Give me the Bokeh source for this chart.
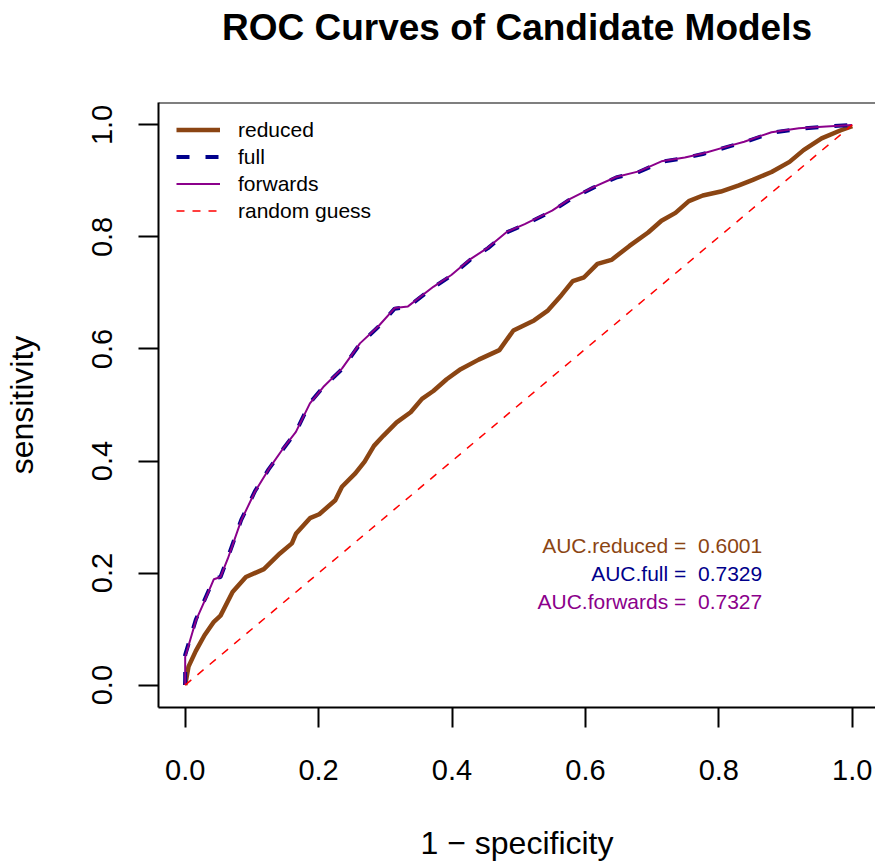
from bokeh.plotting import figure
from bokeh.models import Range1d, FixedTicker, Span, Legend, LegendItem, ColumnDataSource, LinearAxis
from bokeh.core.properties import value
from bokeh.embed import file_html
from bokeh.resources import INLINE

# ---- data ----
reduced_fpr = [0.0, 0.005, 0.016, 0.029, 0.043, 0.053, 0.071, 0.091, 0.118, 0.142, 0.160, 0.166,
               0.187, 0.201, 0.225, 0.235, 0.255, 0.269, 0.283, 0.297, 0.317, 0.338, 0.355, 0.372,
               0.392, 0.413, 0.440, 0.471, 0.492, 0.523, 0.543, 0.564, 0.581, 0.598, 0.618, 0.639,
               0.666, 0.694, 0.714, 0.735, 0.755, 0.776, 0.803, 0.830, 0.851, 0.879, 0.906, 0.927,
               0.954, 0.982, 1.0]
reduced_tpr = [0.0, 0.033, 0.061, 0.089, 0.113, 0.124, 0.166, 0.193, 0.207, 0.235, 0.253, 0.270,
               0.298, 0.305, 0.330, 0.354, 0.378, 0.399, 0.427, 0.445, 0.469, 0.487, 0.511, 0.525,
               0.546, 0.564, 0.581, 0.598, 0.633, 0.651, 0.668, 0.696, 0.721, 0.728, 0.752, 0.759,
               0.784, 0.808, 0.829, 0.843, 0.864, 0.874, 0.881, 0.892, 0.902, 0.916, 0.934, 0.955,
               0.976, 0.990, 0.998]

full_fpr = [0.0, 0.0, 0.016, 0.029, 0.043, 0.053, 0.064, 0.084, 0.105, 0.125, 0.146, 0.166,
            0.187, 0.207, 0.235, 0.262, 0.290, 0.314, 0.334, 0.372, 0.399, 0.427, 0.454, 0.482,
            0.509, 0.550, 0.577, 0.612, 0.646, 0.680, 0.714, 0.749, 0.776, 0.817, 0.838, 0.879,
            0.920, 0.961, 1.0]
full_tpr = [0.0, 0.054, 0.117, 0.152, 0.190, 0.193, 0.228, 0.295, 0.347, 0.385, 0.420, 0.452,
            0.504, 0.532, 0.564, 0.609, 0.640, 0.672, 0.675, 0.710, 0.731, 0.759, 0.780, 0.808,
            0.822, 0.846, 0.867, 0.888, 0.906, 0.916, 0.934, 0.941, 0.948, 0.962, 0.969, 0.986,
            0.993, 0.997, 1.0]

forwards_fpr = [0.0, 0.0, 0.016, 0.029, 0.043, 0.053, 0.064, 0.084, 0.105, 0.125, 0.146, 0.166,
                0.187, 0.207, 0.235, 0.262, 0.290, 0.314, 0.334, 0.372, 0.399, 0.427, 0.454, 0.482,
                0.509, 0.550, 0.577, 0.612, 0.646, 0.680, 0.714, 0.749, 0.776, 0.817, 0.838, 0.879,
                0.920, 0.961, 1.0]
forwards_tpr = [0.0, 0.050, 0.115, 0.150, 0.189, 0.193, 0.226, 0.294, 0.346, 0.385, 0.421, 0.452,
                0.503, 0.532, 0.565, 0.610, 0.641, 0.673, 0.676, 0.711, 0.732, 0.760, 0.781, 0.809,
                0.823, 0.847, 0.868, 0.889, 0.907, 0.917, 0.935, 0.942, 0.949, 0.963, 0.970, 0.987,
                0.994, 0.997, 1.0]

guess_x = [0.0, 1.0]
guess_y = [0.0, 1.0]

auc_names = ["reduced", "full", "forwards"]
auc_values = [0.6001, 0.7329, 0.7327]
auc_y = [0.25, 0.20, 0.15]

tick_values = [0.0, 0.2, 0.4, 0.6, 0.8, 1.0]
tick_labels = ["0.0", "0.2", "0.4", "0.6", "0.8", "1.0"]

legend_labels = ["reduced", "full", "forwards", "random guess"]
title_text = "ROC Curves of Candidate Models"

BROWN = "#8B4513"
NAVY = "#00008B"
MAGENTA = "#8B008B"
RED = "#FF0000"
FONT = "Liberation Sans"

FRAME_W = 875 - 157
p = figure(width=875, height=863, output_backend="svg", toolbar_location=None,
           x_range=Range1d(-0.04, -0.04 + FRAME_W / 668.0), y_range=Range1d(-0.04, 1.04),
           min_border_left=157, min_border_right=0, min_border_top=102, min_border_bottom=155)
p.background_fill_color = "white"
p.border_fill_color = "white"
p.outline_line_color = None
p.xgrid.visible = False
p.ygrid.visible = False

xax = p.below[0]
yax = p.left[0]

# chart title, drawn as the label of a tick-less top axis so it sits well above the box
title_axis = LinearAxis(ticker=FixedTicker(ticks=[]), axis_line_color=None,
                        major_tick_line_color=None, minor_tick_line_color=None,
                        major_tick_out=0, major_tick_in=0, minor_tick_out=0, minor_tick_in=0,
                        major_label_standoff=0,
                        axis_label=title_text, axis_label_standoff=55,
                        axis_label_text_font=FONT, axis_label_text_font_size="37px",
                        axis_label_text_font_style="bold", axis_label_text_color="black")
p.add_layout(title_axis, "above")

for ax in (xax, yax):
    ax.ticker = FixedTicker(ticks=tick_values)
    ax.major_label_overrides = {v: l for v, l in zip(tick_values, tick_labels)}
    ax.minor_tick_line_color = None
    ax.major_tick_in = 0
    ax.major_tick_out = 20
    ax.major_tick_line_width = 2
    ax.major_tick_line_color = "black"
    ax.axis_line_width = 2
    ax.axis_line_color = "black"
    ax.major_label_text_font = FONT
    ax.major_label_text_font_size = "29px"
    ax.major_label_text_color = "black"
    ax.axis_label_text_font = FONT
    ax.axis_label_text_font_size = "32px"
    ax.axis_label_text_font_style = "normal"
    ax.axis_label_text_color = "black"

xax.axis_label = "1 \u2212 specificity"
xax.major_label_standoff = 32
xax.axis_label_standoff = 42
yax.axis_label = "sensitivity"
yax.major_label_orientation = "parallel"
yax.major_label_standoff = 26
yax.axis_label_standoff = 50

p.add_layout(Span(location=1.04, dimension="width", line_color="black", line_width=2))

r_red = p.line(reduced_fpr, reduced_tpr, line_color=BROWN, line_width=4.5)
r_full = p.line(full_fpr, full_tpr, line_color=NAVY, line_width=4, line_dash="13 16")
r_fwd = p.line(forwards_fpr, forwards_tpr, line_color=MAGENTA, line_width=2)
r_guess = p.line(guess_x, guess_y, line_color=RED, line_width=1.5, line_dash="8 8")

auc_src = ColumnDataSource(dict(
    x=[0.865] * 3,
    y=auc_y,
    text=["AUC.%s = \u00a0%.4f" % (n, v) for n, v in zip(auc_names, auc_values)],
    color=[BROWN, NAVY, MAGENTA],
))
p.text(x="x", y="y", text="text", source=auc_src, text_color="color",
       text_align="right", text_baseline="middle", text_font=value(FONT),
       text_font_size="21px")

legend = Legend(items=[LegendItem(label=l, renderers=[r]) for l, r in
                       zip(legend_labels, [r_red, r_full, r_fwd, r_guess])],
                location=(18, 483), glyph_width=44, glyph_height=27, label_height=27,
                spacing=0, padding=0, margin=0, label_standoff=18,
                border_line_color=None, background_fill_alpha=0,
                label_text_font=FONT, label_text_font_size="21px", label_text_color="black")
p.add_layout(legend)

open("out.html", "w").write(file_html(p, INLINE))
